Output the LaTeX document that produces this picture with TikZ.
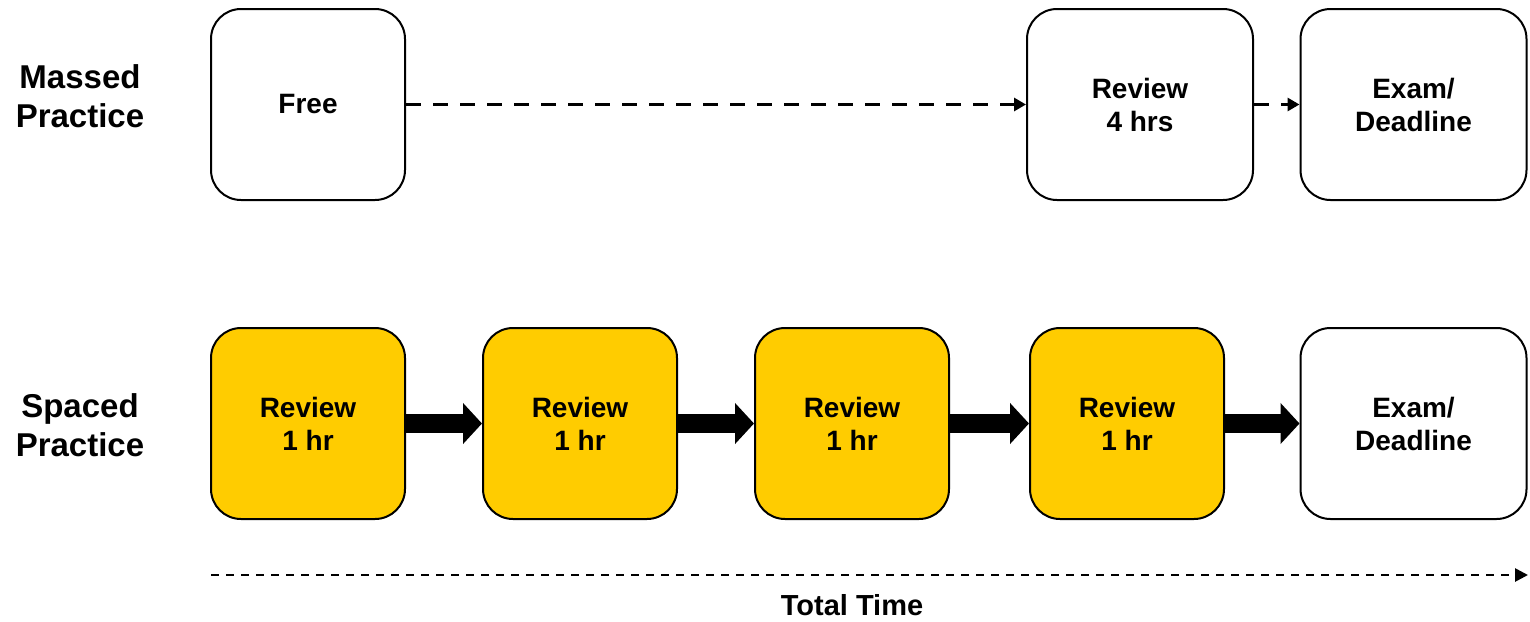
\documentclass[tikz,border=0pt]{standalone}
\usepackage{fontspec}
\setmainfont{Liberation Sans}
\usetikzlibrary{arrows.meta}
\definecolor{gold}{HTML}{FFCC00}
\tikzset{
  card/.style={draw=black, line width=1pt, rounded corners=15pt, minimum height=95.5pt,
    align=center, font=\bfseries\fontsize{14}{16.5}\selectfont, inner sep=0pt},
  narrow/.style={card, minimum width=97pt},
  wide/.style={card, minimum width=113pt},
  yel/.style={narrow, fill=gold},
  rowlabel/.style={align=center, font=\bfseries\fontsize{16.5}{19.5}\selectfont},
  dasharrow/.style={line width=1.6pt, dash pattern=on 7.5pt off 6pt, -{Triangle[length=6pt,width=6.5pt]}},
  thick arrow/.style={line width=9.5pt, -{Triangle[length=9.5pt,width=20pt]}},
  timearrow/.style={line width=1.3pt, dash pattern=on 4pt off 3.5pt, -{Triangle[length=6.5pt,width=6.5pt]}}
}
\begin{document}
\begin{tikzpicture}[x=0.5pt,y=-0.5pt]
\useasboundingbox (0,0) rectangle (1530,621);
\node[rowlabel] (massed) at (80,96) {Massed\\Practice};
\node[rowlabel] (spaced) at (80,425) {Spaced\\Practice};
\node[narrow] (free) at (308,104.5) {Free};
\node[wide] (rev4) at (1140,104.5) {Review\\4 hrs};
\node[wide] (exam1) at (1413.5,104.5) {Exam/\\Deadline};
\node[yel] (r1) at (308,423.5) {Review\\1 hr};
\node[yel] (r2) at (580,423.5) {Review\\1 hr};
\node[yel] (r3) at (852,423.5) {Review\\1 hr};
\node[yel] (r4) at (1127,423.5) {Review\\1 hr};
\node[wide] (exam2) at (1413.5,423.5) {Exam/\\Deadline};
\draw[dasharrow] (free.east) -- (rev4.west);
\draw[dasharrow] (rev4.east) -- (exam1.west);
\draw[thick arrow] (r1.east) -- (r2.west);
\draw[thick arrow] (r2.east) -- (r3.west);
\draw[thick arrow] (r3.east) -- (r4.west);
\draw[thick arrow] (r4.east) -- (exam2.west);
\coordinate (t0) at (211,575);
\coordinate (t1) at (1528,575);
\draw[timearrow] (t0) -- (t1);
\node[font=\bfseries\fontsize{14.5}{16}\selectfont] (total) at (852,605) {Total Time};
\end{tikzpicture}
\end{document}
